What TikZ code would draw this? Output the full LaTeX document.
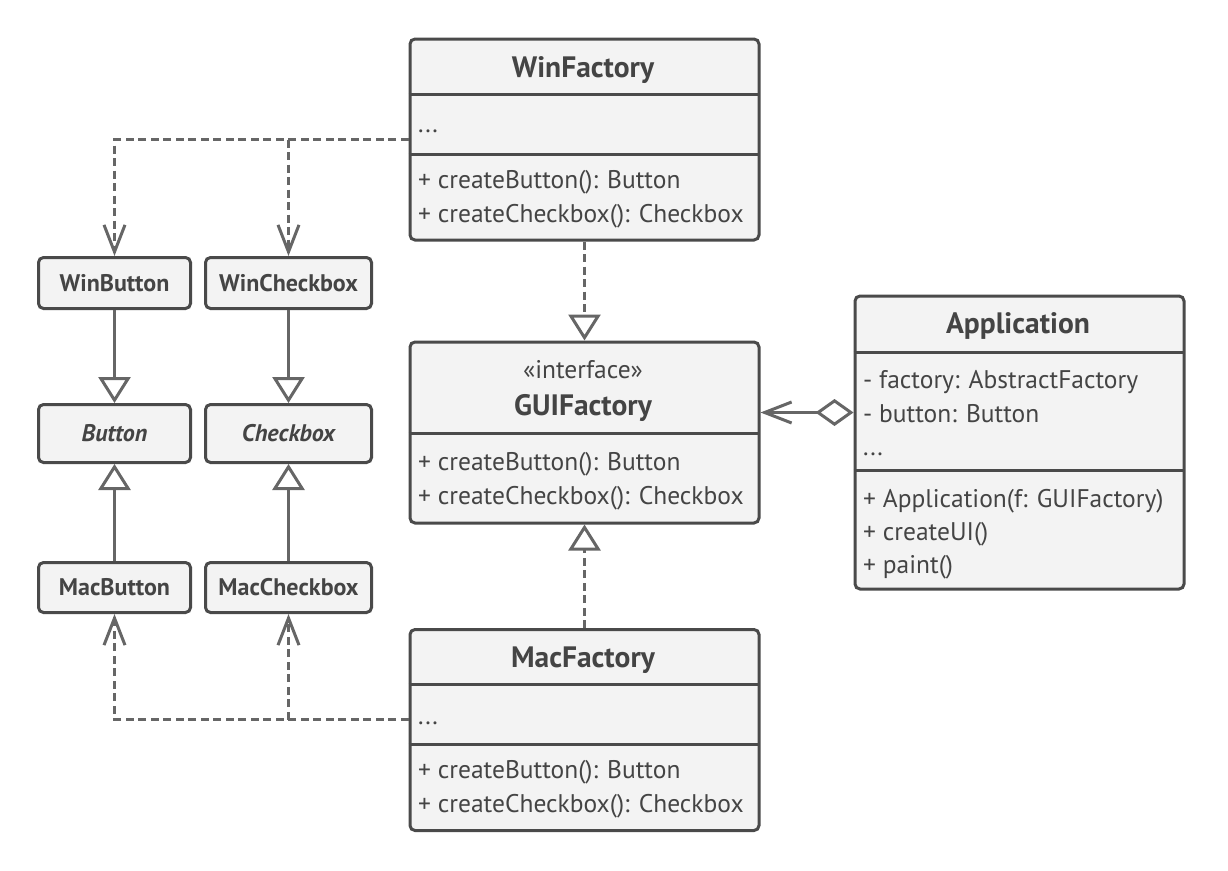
\documentclass[tikz,border=0pt]{standalone}
\usepackage{fontspec}
\setmainfont{PT Sans}
\usetikzlibrary{arrows.meta}
\definecolor{bordc}{HTML}{4A4A4A}
\definecolor{fillc}{HTML}{F3F3F3}
\definecolor{connc}{HTML}{666666}
\definecolor{textc}{HTML}{444444}
\tikzset{
  cls/.style={draw=bordc, line width=3pt, fill=fillc, rounded corners=5pt,
    inner sep=0pt, anchor=north west, text=textc},
  smallbox/.style={cls, anchor=center, font=\fontsize{24}{28}\selectfont\bfseries},
  divider/.style={draw=bordc, line width=3pt},
  title/.style={anchor=base, inner sep=0pt, text=textc, font=\fontsize{29.5}{33}\selectfont\bfseries},
  stereo/.style={anchor=base, inner sep=0pt, text=textc, font=\fontsize{25.5}{29}\selectfont},
  member/.style={anchor=base west, inner sep=0pt, text=textc, font=\fontsize{25.5}{29}\selectfont},
  conn/.style={draw=connc, line width=3pt},
  dep/.style={conn, dash pattern=on 8pt off 4.5pt},
  vtip/.style={-{Straight Barb[length=27pt,width=21pt,line width=3pt]}},
  tritip/.style={-{Triangle[open,length=26pt,width=32pt,line width=3pt]}},
}
\begin{document}
\begin{tikzpicture}[x=1pt,y=-1pt]
\useasboundingbox (0,0) rectangle (1228,870);
% ---- WinFactory
\node[cls, minimum width=349pt, minimum height=201pt] (winf) at (408.5,37.5) {};
\draw[divider] (408.5,94.5) -- (757.5,94.5);
\draw[divider] (408.5,154) -- (757.5,154);
\node[title] (winft) at (583,77) {WinFactory};
\node[member] (winfa) at (418,132) {...};
\node[member] (winfm1) at (418,188) {+ createButton(): Button};
\node[member] (winfm2) at (418,222) {+ createCheckbox(): Checkbox};
% ---- GUIFactory
\node[cls, minimum width=349pt, minimum height=181pt] (guif) at (408.5,340.5) {};
\draw[divider] (408.5,433.5) -- (757.5,433.5);
\node[stereo] (guifs) at (583,378) {«interface»};
\node[title] (guift) at (583,415) {GUIFactory};
\node[member] (guifm1) at (418,470) {+ createButton(): Button};
\node[member] (guifm2) at (418,504) {+ createCheckbox(): Checkbox};
% ---- MacFactory
\node[cls, minimum width=349pt, minimum height=201pt] (macf) at (408.5,628) {};
\draw[divider] (408.5,684.5) -- (757.5,684.5);
\draw[divider] (408.5,744) -- (757.5,744);
\node[title] (macft) at (583,667) {MacFactory};
\node[member] (macfa) at (418,724) {...};
\node[member] (macfm1) at (418,778) {+ createButton(): Button};
\node[member] (macfm2) at (418,812) {+ createCheckbox(): Checkbox};
% ---- Application
\node[cls, minimum width=329pt, minimum height=293pt] (app) at (853.5,294.5) {};
\draw[divider] (853.5,352) -- (1182.5,352);
\draw[divider] (853.5,470) -- (1182.5,470);
\node[title] (appt) at (1018,333) {Application};
\node[member] (appa1) at (863,388) {- factory: AbstractFactory};
\node[member] (appa2) at (863,422) {- button: Button};
\node[member] (appa3) at (863,455) {...};
\node[member] (appm1) at (863,507) {+ Application(f: GUIFactory)};
\node[member] (appm2) at (863,540) {+ createUI()};
\node[member] (appm3) at (863,573) {+ paint()};
% ---- small boxes
\node[smallbox, minimum width=152pt, minimum height=51pt] (winbtn) at (114.5,283) {WinButton};
\node[smallbox, minimum width=166pt, minimum height=51pt] (wincb) at (288.5,283) {WinCheckbox};
\node[smallbox, minimum width=152pt, minimum height=58pt] (btn) at (114.5,433.5) {\itshape Button};
\node[smallbox, minimum width=166pt, minimum height=58pt] (cb) at (288.5,433.5) {\itshape Checkbox};
\node[smallbox, minimum width=152pt, minimum height=50pt] (macbtn) at (114.5,587.5) {MacButton};
\node[smallbox, minimum width=166pt, minimum height=50pt] (maccb) at (288.5,587.5) {MacCheckbox};
% ---- ports
\coordinate (macport) at ([yshift=10.5pt]macf.west);
\coordinate (appport) at ([yshift=30pt]app.west);
% ---- connectors
\draw[dep, vtip] (winf.west) -| (winbtn.north);
\draw[dep, vtip] (wincb.north |- winf.west) -- (wincb.north);
\draw[dep, vtip] (macport) -| (macbtn.south);
\draw[dep, vtip] (maccb.south |- macport) -- (maccb.south);
\draw[conn, tritip] (winbtn.south) -- (btn.north);
\draw[conn, tritip] (wincb.south) -- (cb.north);
\draw[conn, tritip] (macbtn.north) -- (btn.south);
\draw[conn, tritip] (maccb.north) -- (cb.south);
\draw[dep, tritip] (winf.south) -- (guif.north);
\draw[dep, tritip] (macf.north) -- (guif.south);
\draw[conn, {Straight Barb[length=27pt,width=21pt,line width=3pt]}-{Diamond[open,length=38pt,width=27pt,line width=3pt]}]
  (guif.east |- appport) -- (appport);
\end{tikzpicture}
\end{document}
